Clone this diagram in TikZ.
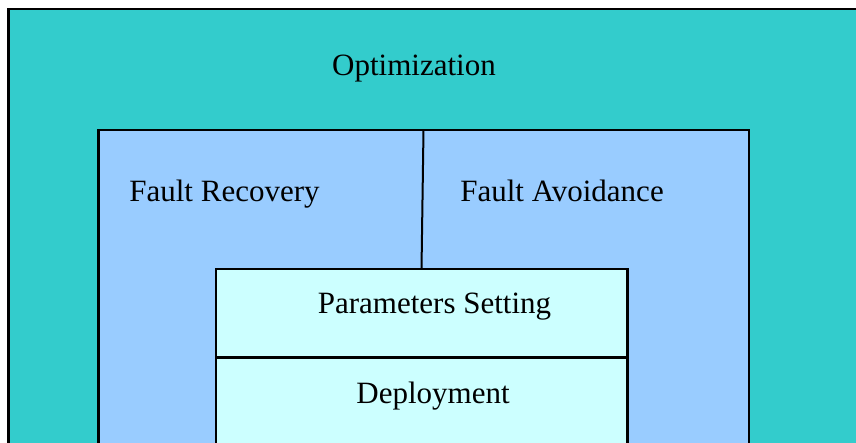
\documentclass[tikz,border=0pt]{standalone}
\usepackage{fontspec}
\setmainfont{Liberation Serif}
\definecolor{teal}{HTML}{33CCCC}
\definecolor{paleblue}{HTML}{99CCFF}
\definecolor{palecyan}{HTML}{CCFFFF}
\begin{document}
\begin{tikzpicture}[x=1pt,y=-1pt,
  box/.style={draw=black,line width=2.5pt},
  lbl/.style={anchor=base,inner sep=0pt,font=\fontsize{31}{34}\selectfont}]
\useasboundingbox (0,0) rectangle (856,443);
\clip (0,0) rectangle (856,443);
% outer layer
\path[box,fill=teal] (8.5,9) rectangle (880,470);
% fault handling layer
\path[box,fill=paleblue] (98.5,130) rectangle (749,470);
\coordinate (divtop) at (423.5,130);
\coordinate (divbot) at (421.5,269);
\draw[line width=2pt] (divtop) -- (divbot);
% core layer
\path[box,fill=palecyan] (216,269) rectangle (627.5,470);
\coordinate (splitL) at (216,357.5);
\coordinate (splitR) at (627.5,357.5);
\draw[line width=2.5pt] (splitL) -- (splitR);
% labels
\node[lbl] (opt) at (414,76) {Optimization};
\node[lbl] (rec) at (224.5,201.5) {Fault Recovery};
\node[lbl] (avo) at (562,201.5) {Fault Avoidance};
\node[lbl] (par) at (434.5,313.5) {Parameters Setting};
\node[lbl] (dep) at (433,403.5) {Deployment};
\end{tikzpicture}
\end{document}
